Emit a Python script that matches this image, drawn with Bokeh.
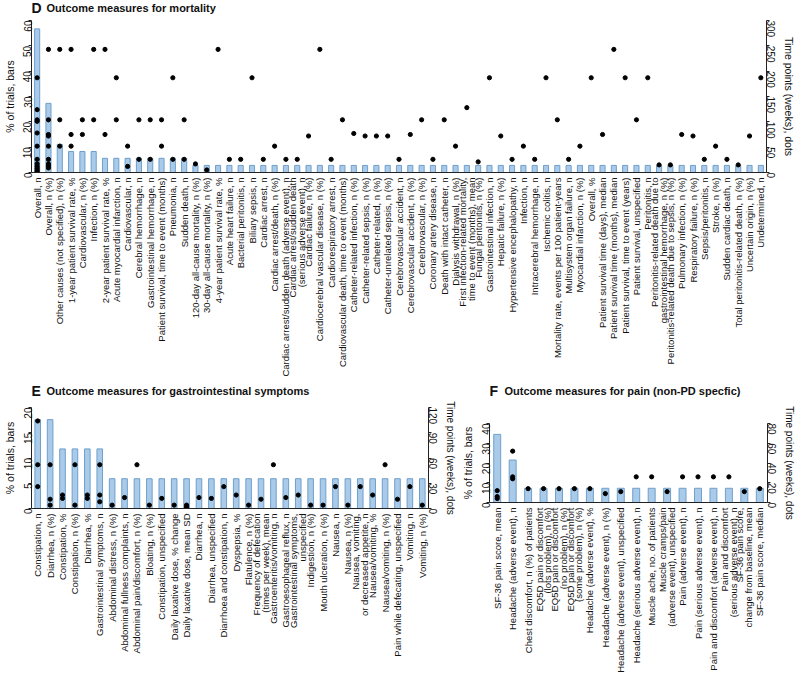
from math import pi
from bokeh.plotting import figure
from bokeh.models import Range1d, FactorRange, LinearAxis, FixedTicker
from bokeh.core.properties import value
from bokeh.layouts import column, row
from bokeh.embed import file_html
from bokeh.resources import INLINE

FONT = "Liberation Sans"
BAR_FILL = "#a9cbe9"
BAR_LINE = "#6f9fcb"
AXIS_COLOR = "#222222"

# ---------------- Panel D: mortality ----------------
d_categories = [
    "Overall, n", "Overall, n (%)", "Other causes (not specified), n (%)",
    "1-year patient survival rate, %", "Cardiovascular, n (%)", "Infection, n (%)",
    "2-year patient survival rate, %", "Acute myocardial infarction, n", "Cardiovascular, n",
    "Cerebral hemorrhage, n", "Gastrointestinal hemorrhage, n",
    "Patient survival, time to event (months)", "Pneumonia, n", "Sudden death, n",
    "120-day all-cause mortality, n (%)", "30-day all-cause mortality, n (%)",
    "4-year patient survival rate, %", "Acute heart failure, n", "Bacterial peritonitis, n",
    "Biliary sepsis, n", "Cardiac arrest, n", "Cardiac arrest/death, n (%)",
    "Cardiac arrest/sudden death (adverse event), n",
    "Cardiac arrest/sudden death\n(serious adverse event), n",
    "Cardiac failure, n (%)", "Cardiocerebral vascular disease, n (%)",
    "Cardiorespiratory arrest, n", "Cardiovascular death, time to event (months)",
    "Catheter-related infection, n (%)", "Catheter-related sepsis, n (%)",
    "Catheter-related, n (%)", "Catheter-unrelated sepsis, n (%)",
    "Cerebrovascular accident, n", "Cerebrovascular accident, n (%)",
    "Cerebrovascular, n (%)", "Coronary artery disease, n", "Death with intact catheter, n",
    "Dialysis withdrawal, n (%)",
    "First infection-related mortality,\ntime to event (months), mean",
    "Fungal peritonitis, n (%)", "Gastrointestinal infection, n", "Hepatic failure, n (%)",
    "Hypertensive encephalopathy, n", "Infection, n", "Intracerebral hemorrhage, n",
    "Ischemic colitis, n", "Mortality rate, events per 100 patient-years",
    "Multisystem organ failure, n", "Myocardial infarction, n (%)", "Overall, %",
    "Patient survival time (days), median", "Patient survival time (months), median",
    "Patient survival, time to event (years)", "Patient survival, unspecified",
    "Peritonitis, n",
    "Peritonitis-related death due to\ngastrointestinal hemorrhage, n (%)",
    "Peritonitis-related death due to sepsis, n (%)", "Pulmonary infection, n (%)",
    "Respiratory failure, n (%)", "Sepsis/peritonitis, n", "Stroke, n (%)",
    "Sudden cardiac death, n", "Total peritonitis-related death, n (%)",
    "Uncertain origin, n (%)", "Undetermined, n",
]
d_bars = [56.7, 27.3, 11.1, 8.3, 8.3, 8.3] + [5.6] * 8 + [2.8] * 51
d_weeks = [
    [187, 124, 104, 101, 78, 52, 26, 17, 12, 8, 4, 1],
    [243, 104, 75, 72, 52, 26, 17, 13, 9],
    [243, 104, 52], [243, 75, 52], [104, 75], [243, 104], [243, 75], [187, 104],
    [52, 12], [104, 26], [104, 26], [104, 52], [187, 26], [104, 26],
    [17], [5], [243], [26], [26], [187], [26], [52], [26], [26], [72], [243], [26],
    [104], [77], [72], [72], [72], [26], [75], [104], [26], [104], [52], [128], [21],
    [187], [72], [26], [52], [26], [187], [104], [26], [52], [187], [75], [243], [187],
    [104], [187], [15], [15], [75], [72], [26], [52], [26], [15], [72], [187],
]

# ---------------- Panel E: gastrointestinal ----------------
e_categories = [
    "Constipation, n", "Diarrhea, n (%)", "Constipation, %", "Constipation, n (%)",
    "Diarrhea, %", "Gastrointestinal symptoms, n", "Abdominal distress, n (%)",
    "Abdominal fullness complaints, n", "Abdominal pain/discomfort, n (%)",
    "Bloating, n (%)", "Constipation, unspecified", "Daily laxative dose, % change",
    "Daily laxative dose, mean SD", "Diarrhea, n", "Diarrhea, unspecified",
    "Diarrhoea and constipation, n", "Dyspepsia, %", "Flatulence, n (%)",
    "Frequency of defecation\n(times per week), mean", "Gastroenteritis/vomiting, n",
    "Gastroesophageal reflux, n", "Gastrointestinal symptoms,\nunspecified",
    "Indigestion, n (%)", "Mouth ulceration, n (%)", "Nausea, n", "Nausea, n (%)",
    "Nausea, vomiting,\nor decreased appetite, n", "Nausea/vomiting, %",
    "Nausea/vomiting, n (%)", "Pain while defecating, unspecified", "Vomiting, n",
    "Vomiting, n (%)",
]
e_bars = [17.6, 17.6, 11.8, 11.8, 11.8, 11.8] + [5.9] * 26
e_weeks = [
    [104, 52, 26], [52, 11, 4], [16, 12], [52, 4], [16, 12], [52, 16, 8], [4], [13],
    [52], [4], [12], [4], [4, 2, 1], [13], [12], [26], [16], [4], [11], [52], [13],
    [16], [4], [4], [26], [4], [26], [16], [52], [11], [26], [4],
]

# ---------------- Panel F: pain ----------------
f_categories = [
    "SF-36 pain score, mean", "Headache (adverse event), n",
    "Chest discomfort, n (%) of patients",
    "EQ5D pain or discomfort\n(lots problem), n (%)",
    "EQ5D pain or discomfort\n(no problem), n (%)",
    "EQ5D pain or discomfort\n(some problem), n (%)",
    "Headache (adverse event), %", "Headache (adverse event), n (%)",
    "Headache (adverse event), unspecified", "Headache (serious adverse event), n",
    "Muscle ache, no. of patients", "Muscle cramps/pain\n(adverse event), unspecified",
    "Pain (adverse event), n", "Pain (serious adverse event), n",
    "Pain and discomfort (adverse event), n",
    "Pain and discomfort\n(serious adverse event), n",
    "SF-36 pain score,\nchange from baseline, mean", "SF-36 pain score, median",
]
f_bars = [34.5, 21.5] + [7.2] * 16
f_weeks = [
    [12, 6, 4], [52, 26, 24], [14], [14], [14], [14], [14], [9], [11], [26], [26],
    [11], [26], [26], [26], [26], [11], [14],
]


def style_axis(ax):
    ax.axis_line_color = AXIS_COLOR
    ax.major_tick_line_color = AXIS_COLOR
    ax.minor_tick_line_color = None
    ax.major_tick_out = 3
    ax.major_tick_in = 0
    ax.major_label_text_font = FONT
    ax.major_label_text_font_size = "10px"
    ax.major_label_text_color = "#111111"
    ax.axis_label_text_font = FONT
    ax.axis_label_text_font_size = "10.5px"
    ax.axis_label_text_font_style = "normal"
    ax.axis_label_text_color = "#111111"
    ax.major_label_standoff = 1
    ax.axis_label_standoff = 1


def header(width, height, letter, title):
    h = figure(width=width, height=height, x_range=Range1d(0, 1),
               y_range=Range1d(-1, 1), x_axis_type=None, y_axis_type=None,
               min_border=0, min_border_left=0, min_border_right=0,
               min_border_top=0, min_border_bottom=0,
               toolbar_location=None, output_backend="svg",
               outline_line_color=None)
    h.xgrid.visible = False
    h.ygrid.visible = False
    h.text(x=[0], y=[0], text=[letter], text_font=value(FONT),
           text_font_size="14px", text_font_style="bold", text_baseline="middle",
           text_color="#111111")
    h.text(x=[0], y=[0], x_offset=15, text=[title], text_font=value(FONT),
           text_font_size="11px", text_font_style="bold", text_baseline="middle",
           text_color="#111111")
    return h


def panel(cats, bars, weeks, y_max, y_step, w_max, w_step, width, height,
          top, bottom, left, right, wlabel_size):
    p = figure(x_range=FactorRange(*cats), y_range=Range1d(0, y_max),
               width=width, height=height,
               min_border_top=top, min_border_bottom=bottom,
               min_border_left=left, min_border_right=right,
               output_backend="svg", toolbar_location=None,
               outline_line_color=None, background_fill_color="white")
    p.extra_y_ranges = {"w": Range1d(0, w_max)}
    p.xgrid.visible = False
    p.ygrid.visible = False

    p.vbar(x=cats, top=bars, width=0.45, fill_color=BAR_FILL,
           line_color=BAR_LINE, line_width=1)
    xs = [c for c, ws in zip(cats, weeks) for _ in ws]
    ys = [w for ws in weeks for w in ws]
    p.scatter(x=xs, y=ys, y_range_name="w", size=4.2, color="black")

    xa = p.xaxis[0]
    style_axis(xa)
    xa.major_tick_line_color = None
    xa.major_label_orientation = pi / 2
    xa.major_label_text_font_size = "9.5px"
    xa.major_label_text_align = "right"
    xa.major_label_text_line_height = 0.8
    xa.major_label_standoff = 2

    ya = p.yaxis[0]
    style_axis(ya)
    ya.axis_label = "% of trials, bars"
    ya.ticker = FixedTicker(ticks=list(range(0, y_max + 1, y_step)))
    ya.major_label_orientation = pi / 2

    ra = LinearAxis(y_range_name="w", axis_label="Time points (weeks), dots",
                    ticker=FixedTicker(ticks=list(range(0, w_max + 1, w_step))))
    style_axis(ra)
    ra.axis_label_text_font_size = wlabel_size
    ra.major_label_orientation = -pi / 2
    p.add_layout(ra, "right")
    return p


hD = header(797, 14, "D", "Outcome measures for mortality")
pD = panel(d_categories, d_bars, d_weeks, 60, 10, 300, 50, 797, 365,
           6, 205, 24, 24, "10.5px")

hE = header(458, 22, "E", "Outcome measures for gastrointestinal symptoms")
pE = panel(e_categories, e_bars, e_weeks, 20, 5, 120, 30, 458, 274,
           6, 167, 24, 24, "10px")

hF = header(339, 22, "F", "Outcome measures for pain (non-PD specfic)")
pF = panel(f_categories, f_bars, f_weeks, 40, 10, 80, 20, 339, 274,
           22, 167, 27, 24, "10px")

layout = column(hD, pD, row(column(hE, pE), column(hF, pF)))
open("out.html", "w").write(file_html(layout, INLINE))
